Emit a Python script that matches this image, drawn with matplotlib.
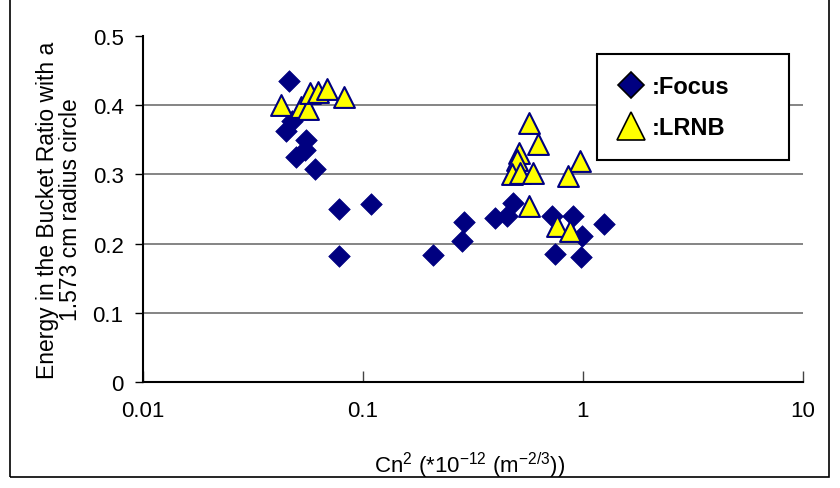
import matplotlib
matplotlib.use("Agg")
import matplotlib.pyplot as plt
from matplotlib.lines import Line2D
from matplotlib.patches import Rectangle

plt.rcParams['font.family'] = ['Liberation Sans', 'DejaVu Sans']
plt.rcParams['mathtext.default'] = 'regular'

# Focus (diamonds)
focus_x = [0.0461, 0.0447, 0.0475, 0.0551, 0.0546, 0.0496, 0.0605, 0.0778,
           0.1088, 0.0778, 0.208, 0.282, 0.288, 0.398, 0.452, 0.481,
           0.723, 0.901, 0.990, 0.747, 0.98, 1.246]
focus_y = [0.435, 0.363, 0.377, 0.350, 0.335, 0.325, 0.308, 0.250,
           0.257, 0.182, 0.184, 0.204, 0.231, 0.237, 0.240, 0.259,
           0.240, 0.240, 0.211, 0.185, 0.181, 0.228]

# LRNB (triangles)
lrnb_x = [0.0424, 0.0522, 0.0563, 0.0574, 0.0623, 0.0686, 0.082,
          0.569, 0.624, 0.512, 0.500, 0.475, 0.519, 0.593, 0.569,
          0.969, 0.855, 0.761, 0.873]
lrnb_y = [0.400, 0.397, 0.395, 0.418, 0.419, 0.423, 0.412,
          0.374, 0.344, 0.331, 0.321, 0.300, 0.302, 0.302, 0.254,
          0.319, 0.297, 0.225, 0.218]

x_ticks = [0.01, 0.1, 1, 10]
x_tick_labels = ['0.01', '0.1', '1', '10']
y_ticks = [0, 0.1, 0.2, 0.3, 0.4, 0.5]
y_tick_labels = ['0', '0.1', '0.2', '0.3', '0.4', '0.5']

navy = '#000080'
yellow = '#FFFF00'

fig = plt.figure(figsize=(8.4, 4.89), dpi=100)
ax = fig.add_axes([0.1702, 0.2168, 0.7857, 0.7075])

ax.scatter(focus_x, focus_y, marker='D', s=121, c=navy, edgecolors=navy,
           linewidths=0.5, zorder=3)
ax.scatter(lrnb_x, lrnb_y, marker='^', s=225, c=yellow, edgecolors=navy,
           linewidths=1.5, zorder=4)

ax.set_xscale('log')
ax.set_xlim(0.01, 10)
ax.set_ylim(0, 0.5)
ax.set_xticks(x_ticks)
ax.set_xticklabels(x_tick_labels)
ax.xaxis.set_minor_locator(matplotlib.ticker.NullLocator())
ax.set_yticks(y_ticks)
ax.set_yticklabels(y_tick_labels)

ax.tick_params(axis='x', direction='in', length=8, width=1, pad=13,
               labelsize=16, color='#444444')
ax.tick_params(axis='y', direction='out', length=6, width=1, pad=8,
               labelsize=16)

for y in y_ticks[1:-1]:
    ax.axhline(y, color='#707070', lw=1.2, zorder=1)

for side in ['top', 'right']:
    ax.spines[side].set_visible(False)
for side in ['left', 'bottom']:
    ax.spines[side].set_linewidth(1.5)
    ax.spines[side].set_color('black')

ax.set_ylabel('Energy in the Bucket Ratio with a\n1.573 cm radius circle',
              fontsize=16.5, linespacing=1.0)
ax.yaxis.set_label_coords(-0.093, 0.5)
ax.set_xlabel(r'Cn$^{2}$ (*10$^{-12}$ (m$^{-2/3}$))', fontsize=16)
ax.xaxis.set_label_coords(0.495, -0.195)

handles = [
    Line2D([], [], ls='none', marker='D', markersize=13, markerfacecolor=navy,
           markeredgecolor='black', markeredgewidth=1.2),
    Line2D([], [], ls='none', marker='^', markersize=20, markerfacecolor=yellow,
           markeredgecolor='black', markeredgewidth=1.2),
]
leg = ax.legend(handles, [':Focus', ':LRNB'], loc='upper left',
                bbox_to_anchor=(0.688, 0.647, 0.291, 0.301), mode='expand',
                frameon=True, fancybox=False,
                edgecolor='black', framealpha=1, handlelength=1.1,
                handletextpad=0.3, borderpad=0.9, labelspacing=0.75,
                borderaxespad=0,
                prop={'size': 17, 'weight': 'bold'})
leg.get_frame().set_linewidth(1.5)

fig.patches.append(Rectangle((10 / 840, 11 / 489), 819 / 840, 1.1,
                             transform=fig.transFigure, fill=False,
                             edgecolor='black', lw=1.2))

fig.savefig('out.png', dpi=100)
